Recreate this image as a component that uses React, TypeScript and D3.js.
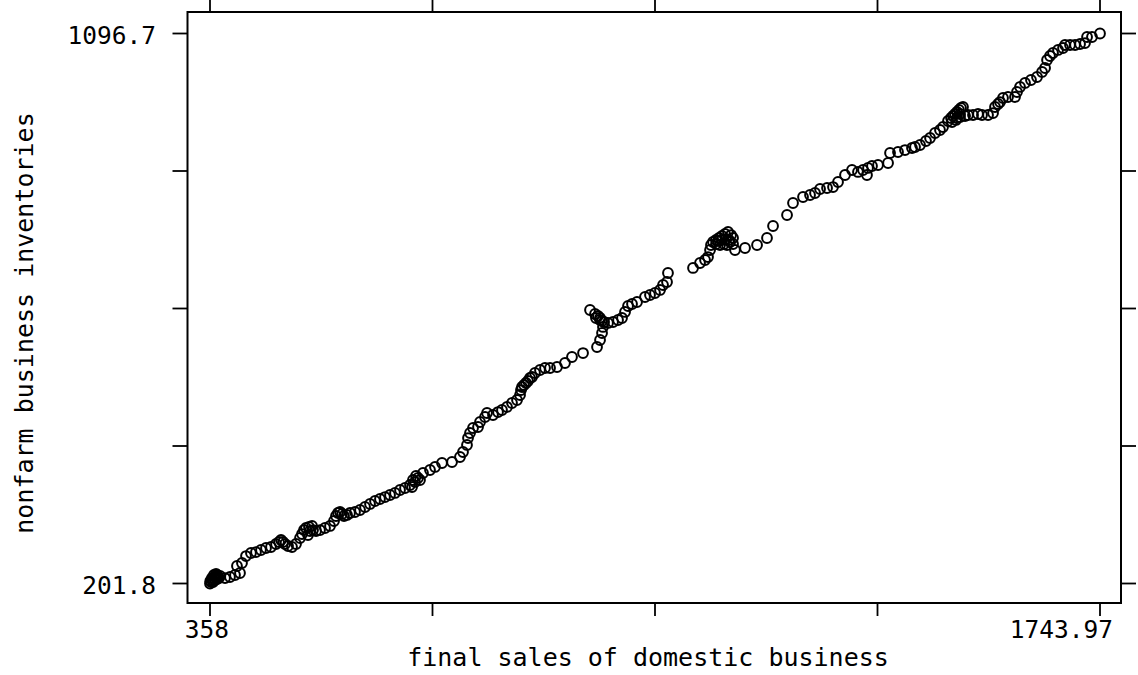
import React from "react";
import * as d3 from "d3";

const xDomain = [358, 1743.97];
const yDomain = [201.8, 1096.7];
const xTickLabels = ["358", "", "", "", "1743.97"];
const yTickLabels = ["201.8", "", "", "", "1096.7"];
const xTitle = "final sales of domestic business";
const yTitle = "nonfarm business inventories";

const sales = [
  358, 358.5, 359.6, 362.7, 361.1, 362.7, 361.1, 364.2, 365.8, 367.4, 368.9, 367.4, 364.2, 370.5, 372.0, 368.9, 365.8, 373.6,
  381.4, 389.1, 396.9, 404.7, 400.0, 407.8, 414.1, 421.8, 429.6, 437.4, 445.2, 453.0, 460.8, 465.5, 468.6, 471.7, 474.8, 479.5,
  485.7, 491.9, 498.2, 501.3, 504.4, 507.5, 512.2, 516.9, 513.7, 510.6, 518.4, 523.1, 529.3, 537.1, 544.9, 551.1, 554.2, 557.3,
  560.5, 563.6, 566.7, 571.4, 576.0, 583.8, 591.6, 599.4, 607.2, 615.0, 622.7, 630.5, 638.3, 646.1, 653.9, 661.7, 669.5, 672.6,
  674.1, 677.2, 678.8, 681.9, 685.0, 689.7, 700.6, 708.4, 719.3, 734.9, 747.3, 752.0, 758.2, 759.8, 762.9, 767.6, 775.4, 778.5,
  786.3, 789.4, 798.7, 806.5, 812.7, 820.5, 828.3, 836.1, 840.8, 842.3, 843.9, 847.0, 850.1, 853.2, 856.3, 859.5, 864.1, 871.9,
  879.7, 887.5, 898.4, 910.8, 921.7, 938.9, 960.7, 965.4, 968.5, 970.0, 968.5, 965.4, 962.2, 957.6, 949.8, 959.1, 965.4, 971.6,
  977.8, 985.6, 993.4, 999.6, 1004.3, 1009.0, 1015.2, 1023.0, 1035.4, 1043.2, 1051.0, 1058.8, 1063.5, 1069.7, 1071.2,
  1110.2, 1121.1, 1128.9, 1133.5, 1136.7, 1138.2, 1141.3, 1146.0, 1150.7, 1155.3, 1160.0, 1164.7, 1169.4, 1172.5, 1167.8, 1163.1,
  1158.5, 1152.2, 1146.0, 1149.1, 1155.3, 1161.6, 1166.2, 1172.5, 1175.6, 1191.2, 1209.9, 1225.4, 1234.8, 1256.6, 1265.9, 1281.5,
  1292.4, 1300.2, 1308.0, 1318.9, 1328.2, 1336.0, 1346.9, 1357.8, 1367.1, 1374.9, 1381.1, 1382.7, 1388.9, 1398.3, 1413.9, 1417.0,
  1429.4, 1440.3, 1451.2, 1455.9, 1463.7, 1473.0, 1479.3, 1487.1, 1494.8, 1499.5, 1507.3, 1512.0, 1515.1, 1518.2, 1521.3, 1524.4,
  1527.5, 1530.6, 1526.0, 1521.3, 1513.5, 1519.7, 1526.0, 1533.8, 1538.4, 1546.2, 1554.0, 1560.2, 1569.6, 1577.4, 1580.5, 1585.2,
  1588.3, 1592.9, 1600.7, 1611.6, 1614.7, 1619.4, 1627.2, 1636.5, 1645.9, 1653.7, 1658.4, 1661.5, 1666.1, 1670.8, 1678.6, 1686.4,
  1689.5, 1697.3, 1705.1, 1712.9, 1720.6, 1723.8, 1731.5, 1743.97,
];

const inventories = [
  201.8, 205.9, 204.2, 204.2, 207.5, 207.5, 210.7, 210.7, 212.4, 214.0, 215.6, 217.3, 215.6, 212.4, 210.7, 209.1, 207.5, 214.0,
  210.7, 212.4, 215.6, 218.9, 230.3, 235.2, 246.5, 251.4, 253.0, 256.3, 259.6, 261.2, 266.1, 269.3, 272.6, 269.3, 266.1, 262.8,
  261.2, 266.1, 275.8, 282.3, 288.8, 292.1, 293.7, 295.4, 287.2, 280.7, 288.8, 287.2, 288.8, 292.1, 295.4, 303.5, 311.6, 316.5,
  318.1, 314.9, 311.6, 313.3, 316.5, 318.1, 321.4, 326.3, 331.2, 336.0, 339.3, 342.5, 345.8, 349.1, 353.9, 357.2, 362.1, 358.8,
  370.2, 367.0, 376.7, 373.5, 370.2, 381.6, 386.5, 391.4, 397.9, 399.5, 407.6, 415.8, 427.2, 438.5, 446.7, 454.8, 456.4, 464.6,
  472.7, 479.2, 476.0, 480.8, 484.1, 489.0, 495.5, 500.4, 508.5, 516.6, 521.5, 524.8, 528.0, 531.3, 536.2, 537.8, 544.3, 549.2,
  552.4, 552.4, 554.1, 560.6, 570.3, 576.8, 586.6, 598.0, 609.4, 619.2, 628.9, 633.8, 637.1, 640.3, 646.8, 633.8, 630.5, 627.3,
  625.7, 627.3, 630.5, 633.8, 643.6, 653.3, 656.6, 659.8, 668.0, 671.2, 674.5, 679.4, 687.5, 692.4, 707.0,
  715.2, 723.3, 728.2, 733.0, 744.4, 752.6, 757.5, 760.7, 764.0, 767.2, 770.5, 773.7, 768.8, 764.0, 757.5, 752.6,
  754.2, 752.6, 754.2, 759.1, 760.7, 762.3, 760.7, 754.2, 744.4, 747.7, 752.6, 764.0, 783.5, 801.4, 820.9, 830.7,
  833.9, 837.2, 843.7, 845.3, 846.9, 855.1, 866.5, 874.6, 871.4, 874.6, 866.5, 877.9, 881.1, 882.7, 886.0, 902.3,
  903.9, 907.1, 910.4, 912.0, 915.3, 921.8, 926.7, 934.8, 939.7, 944.6, 954.3, 959.2, 962.5, 965.7, 969.0, 972.2,
  975.5, 977.1, 965.7, 959.2, 952.7, 956.0, 960.8, 962.5, 964.1, 964.1, 965.7, 964.1, 964.1, 967.3, 977.1, 982.0,
  985.2, 991.8, 993.4, 993.4, 1001.5, 1009.7, 1016.2, 1021.0, 1025.9, 1034.1, 1040.6, 1053.6, 1060.1, 1065.0, 1069.9, 1073.1,
  1078.0, 1078.0, 1078.0, 1079.6, 1081.2, 1091.0, 1091.0, 1096.7,
];

export default function App() {
  const W = 1138, H = 675;
  const box = { left: 187.5, right: 1121, top: 12, bottom: 603 };
  const x = d3.scaleLinear().domain(xDomain).range([210, 1100]);
  const y = d3.scaleLinear().domain(yDomain).range([583.5, 33.5]);
  const xTicks = d3.range(5).map((i) => xDomain[0] + (i * (xDomain[1] - xDomain[0])) / 4);
  const yTicks = d3.range(5).map((i) => yDomain[0] + (i * (yDomain[1] - yDomain[0])) / 4);
  const points = d3.zip(sales, inventories);
  const font = "'DejaVu Sans Mono', 'Liberation Mono', monospace";
  const tl = 15;
  return (
    <div style={{ position: "absolute", left: 0, top: 0 }}>
      <svg width={W} height={H} style={{ display: "block", background: "#fff" }}>
        <rect x={0} y={0} width={W} height={H} fill="#fff" />
        <rect
          x={box.left}
          y={box.top}
          width={box.right - box.left}
          height={box.bottom - box.top}
          fill="none"
          stroke="#000"
          strokeWidth={2}
        />
        {xTicks.map((t, i) => (
          <g key={"xt" + i} stroke="#000" strokeWidth={1.8}>
            <line x1={x(t)} x2={x(t)} y1={box.bottom} y2={box.bottom + 13} />
            <line x1={x(t)} x2={x(t)} y1={box.top} y2={box.top - 13} />
          </g>
        ))}
        {yTicks.map((t, i) => (
          <g key={"yt" + i} stroke="#000" strokeWidth={1.8}>
            <line x1={box.left} x2={box.left - tl} y1={y(t)} y2={y(t)} />
            <line x1={box.right} x2={box.right + tl} y1={y(t)} y2={y(t)} />
          </g>
        ))}
        {xTicks.map((t, i) =>
          xTickLabels[i] ? (
            <text
              key={"xl" + i}
              x={i === xTicks.length - 1 ? x(t) + 13 : x(t) - 3}
              y={638}
              fontFamily={font}
              fontSize={24.5}
              textAnchor={i === xTicks.length - 1 ? "end" : "middle"}
              fill="#000"
            >
              {xTickLabels[i]}
            </text>
          ) : null
        )}
        {yTicks.map((t, i) =>
          yTickLabels[i] ? (
            <text
              key={"yl" + i}
              x={156}
              y={y(t) + 10}
              fontFamily={font}
              fontSize={24.5}
              textAnchor="end"
              fill="#000"
            >
              {yTickLabels[i]}
            </text>
          ) : null
        )}
        <text x={648} y={666} fontFamily={font} fontSize={25} textAnchor="middle" fill="#000">
          {xTitle}
        </text>
        <text
          transform="translate(33,323) rotate(-90)"
          fontFamily={font}
          fontSize={25}
          textAnchor="middle"
          fill="#000"
        >
          {yTitle}
        </text>
        <g fill="none" stroke="#000" strokeWidth={2}>
          {points.map(([a, b], i) => (
            <circle key={i} cx={x(a)} cy={y(b)} r={4.9} />
          ))}
        </g>
      </svg>
    </div>
  );
}
